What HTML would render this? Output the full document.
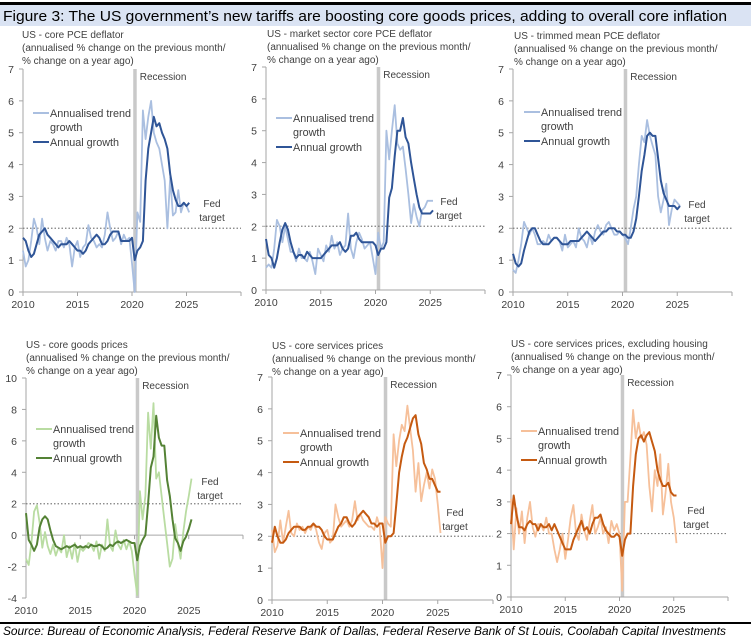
<!DOCTYPE html>
<html><head><meta charset="utf-8"><style>
body{margin:0;background:#fff;width:751px;height:636px;overflow:hidden;font-family:"Liberation Sans",sans-serif}
svg{display:block}
text{font-family:"Liberation Sans",sans-serif;fill:#404040}
</style></head><body>
<svg id="c" width="751" height="636">
<rect x="0" y="2" width="751" height="3" fill="#000"/>
<rect x="0" y="5" width="751" height="21" fill="#dae3f3"/>
<text x="3" y="21" font-size="15" textLength="724" lengthAdjust="spacingAndGlyphs" style="fill:#000">Figure 3:  The US government’s new tariffs are boosting core goods prices, adding to overall core inflation</text>
<rect x="0" y="622" width="751" height="2" fill="#000"/>
<text x="3" y="635" font-size="12" font-style="italic" textLength="723" lengthAdjust="spacingAndGlyphs" style="fill:#000">Source: Bureau of Economic Analysis, Federal Reserve Bank of Dallas, Federal Reserve Bank of St Louis, Coolabah Capital Investments</text>
</svg>
<script>
const startYear = 2010, stepYears = 0.25;
const p1Annual=[1.7,1.6,1.3,1.1,1.2,1.5,1.8,1.9,2.0,1.8,1.7,1.6,1.5,1.4,1.5,1.5,1.5,1.6,1.5,1.4,1.3,1.3,1.2,1.3,1.5,1.6,1.7,1.8,1.7,1.5,1.5,1.6,1.8,1.9,1.9,1.9,1.6,1.6,1.6,1.6,1.7,1.0,1.3,1.4,1.6,3.5,4.5,5.0,5.5,5.2,5.3,5.0,4.8,4.5,3.7,3.2,2.9,2.7,2.7,2.8,2.7,2.8];
const p1Trend=[1.3,0.8,1.0,1.6,2.3,2.0,1.5,2.3,1.7,1.3,1.6,1.5,1.3,1.6,1.6,1.4,1.7,1.5,0.8,1.4,1.6,1.1,1.4,1.5,2.1,1.7,1.6,1.4,1.5,1.4,1.8,2.5,2.0,1.6,1.7,1.9,1.5,1.8,1.6,1.7,0.9,0.0,2.5,2.2,5.7,4.8,5.5,6.0,5.0,4.7,4.5,4.0,3.5,2.0,3.6,2.4,2.5,3.2,2.5,2.8,2.7,2.5];
const p2Annual=[1.6,1.1,1.0,0.7,1.0,1.5,1.9,2.1,1.9,1.5,1.2,1.0,1.1,1.1,1.0,1.2,1.1,1.0,1.0,1.0,1.0,1.1,1.2,1.3,1.4,1.4,1.4,1.5,1.3,1.2,1.3,1.7,1.7,1.8,1.6,1.5,1.5,1.5,1.5,1.5,1.4,1.1,1.3,1.3,1.5,2.9,3.2,4.2,5.0,5.0,5.4,4.8,4.6,4.0,3.5,3.0,2.6,2.4,2.4,2.4,2.4,2.5];
const p2Trend=[0.7,0.8,0.7,1.3,2.2,2.0,1.5,2.0,1.6,1.2,1.2,0.9,1.3,1.0,1.0,0.9,1.2,0.9,0.5,1.3,1.1,0.9,1.4,1.2,1.7,1.3,1.5,1.1,1.3,1.4,2.4,1.3,1.0,1.5,1.8,1.6,1.3,1.4,1.5,1.0,0.5,1.8,1.3,1.5,5.0,4.1,5.0,5.8,4.6,4.4,4.5,3.8,3.0,2.1,2.7,2.3,2.0,2.5,2.6,2.8,2.8,2.8];
const p3Annual=[1.2,0.9,0.8,0.9,1.3,1.6,1.9,2.0,2.0,1.8,1.6,1.5,1.5,1.5,1.6,1.7,1.7,1.6,1.5,1.5,1.5,1.6,1.6,1.6,1.6,1.7,1.8,1.9,1.8,1.7,1.6,1.7,1.8,1.9,1.9,2.0,2.0,2.0,1.9,1.9,1.8,1.8,1.7,1.7,1.9,2.3,3.0,3.8,4.3,4.9,5.0,4.9,4.9,4.2,3.5,3.1,2.9,2.7,2.7,2.7,2.6,2.7];
const p3Trend=[0.7,0.6,1.0,1.5,2.2,2.0,1.8,2.0,1.8,1.5,1.5,1.6,1.5,1.8,1.6,1.7,1.7,1.6,1.3,1.8,1.4,1.5,1.6,1.4,2.0,1.7,1.6,1.4,1.8,1.5,1.9,2.1,1.9,1.8,2.1,2.2,2.0,1.8,1.8,1.9,1.8,1.7,1.5,2.0,2.6,3.0,4.0,4.9,4.7,5.4,4.9,4.6,4.3,3.0,2.5,2.9,3.4,2.1,2.6,2.9,2.8,2.7];
const p4Annual=[1.4,-0.3,-0.6,-1.0,-0.6,0.5,1.0,1.2,1.0,0.3,-0.3,-0.7,-0.8,-0.9,-0.8,-0.7,-0.8,-0.7,-0.6,-0.8,-0.7,-0.8,-0.7,-0.8,-0.6,-0.7,-0.7,-0.6,-0.7,-0.9,-0.8,-0.6,-0.7,-0.5,-0.4,-0.5,-0.4,-0.3,-0.4,-0.5,-0.5,-1.6,-0.7,-0.3,0.0,2.0,4.3,5.0,7.6,6.2,5.7,5.7,3.5,2.5,1.0,-0.2,-0.5,-1.0,-0.4,-0.1,0.4,1.0];
const p4Trend=[-1.5,-1.9,-0.5,1.5,1.9,0.8,-0.8,0.2,-0.7,-1.2,-0.6,-1.3,-0.8,-1.1,0.0,-1.4,-0.7,-1.5,-0.5,-1.7,-0.8,-1.0,-0.8,-0.5,-0.6,-1.0,-0.4,-1.5,-0.6,-1.0,1.0,-0.7,-1.0,0.3,-0.6,-0.9,-0.3,-0.9,-0.4,-1.0,-2.5,-3.8,2.8,1.0,2.5,7.8,5.5,8.4,3.6,4.0,2.5,1.0,-0.5,-2.0,-1.5,0.7,-0.5,-1.5,0.2,1.5,2.5,3.6];
const p5Annual=[1.8,2.3,2.0,1.8,1.8,1.9,2.1,2.2,2.3,2.3,2.3,2.2,2.2,2.3,2.3,2.4,2.3,2.3,2.2,2.0,1.9,1.9,1.9,2.1,2.3,2.4,2.6,2.6,2.4,2.3,2.4,2.6,2.7,2.8,2.7,2.6,2.4,2.4,2.3,2.4,2.4,1.8,2.0,2.0,2.1,3.0,4.0,4.5,4.9,5.1,5.4,5.7,5.8,5.2,4.9,4.3,4.1,3.8,3.8,3.6,3.4,3.4];
const p5Trend=[2.2,1.5,1.7,2.5,1.8,2.3,2.8,2.1,2.0,2.4,2.2,2.3,2.1,2.3,2.2,2.4,2.2,1.8,1.6,2.1,2.2,1.8,1.9,3.0,2.6,2.3,2.4,2.5,2.3,2.5,3.1,2.5,2.7,2.5,2.4,2.3,2.3,2.2,2.6,2.3,1.0,2.6,2.4,2.3,5.2,4.2,5.0,5.5,5.3,6.1,5.4,4.7,3.4,4.3,3.1,3.6,4.0,3.5,4.1,3.8,3.0,2.1];
const p6Annual=[2.3,3.2,2.6,2.2,2.2,2.1,2.3,2.4,2.3,2.3,2.1,2.3,2.2,2.2,2.3,2.1,2.3,2.1,1.9,1.7,1.5,1.5,1.5,1.8,2.0,2.2,2.4,2.1,2.2,2.0,2.3,2.5,2.5,2.6,2.3,2.1,2.0,1.9,1.9,2.0,1.9,1.3,1.8,2.0,2.0,3.5,4.5,5.0,5.1,4.9,5.1,5.2,4.9,4.6,4.0,3.7,3.5,3.5,3.6,3.3,3.2,3.2];
const p6Trend=[3.1,1.5,2.8,2.0,2.7,1.7,2.5,3.0,2.2,1.9,2.3,2.3,2.1,2.5,2.0,2.0,1.5,1.1,1.5,2.0,1.2,1.8,2.5,2.9,2.0,1.8,2.6,2.1,1.8,2.4,2.9,2.0,2.2,2.5,2.0,2.2,1.7,2.4,2.1,2.3,2.0,0.2,3.0,3.0,4.4,5.9,5.0,5.5,5.0,5.2,4.8,3.5,2.7,4.0,3.5,4.5,2.6,3.3,4.2,3.0,2.5,1.7];
const xTickLabels=["2010","2015","2020","2025"];
const fedTarget=2, recessionYear=2020.25;

const svg=document.getElementById('c');
const NS='http://www.w3.org/2000/svg';
function mk(tag,attrs){const e=document.createElementNS(NS,tag);for(const k in attrs)e.setAttribute(k,attrs[k]);svg.appendChild(e);return e;}
const blueD='#2f5597',blueL='#aabfe0',grnD='#548235',grnL='#b9dca2',orD='#c55a11',orL='#f6c09a';
const panels=[
 {id:'core-pce',x0:23,x1:241,yT:69,yB:292,min:0,max:7,step:1,title:['US - core PCE deflator','(annualised % change on the previous month/','% change on a year ago)'],tx:22,ty:38,a:p1Annual,t:p1Trend,cd:blueD,cl:blueL,leg:[33,113],fed:[212,207]},
 {id:'market-pce',x0:266,x1:485,yT:67,yB:290,min:0,max:7,step:1,title:['US - market sector core PCE deflator','(annualised % change on the previous month/','% change on a year ago)'],tx:267,ty:37,a:p2Annual,t:p2Trend,cd:blueD,cl:blueL,leg:[276,118],fed:[449,205]},
 {id:'trimmed-pce',x0:513,x1:732,yT:69,yB:292,min:0,max:7,step:1,title:['US - trimmed mean PCE deflator','(annualised % change on the previous month/','% change on a year ago)'],tx:514,ty:39,a:p3Annual,t:p3Trend,cd:blueD,cl:blueL,leg:[524,112],fed:[697,208]},
 {id:'core-goods',x0:26,x1:243,yT:378,yB:598,min:-4,max:10,step:2,title:['US - core goods prices','(annualised % change on the previous month/','% change on a year ago)'],tx:26,ty:348,a:p4Annual,t:p4Trend,cd:grnD,cl:grnL,leg:[36,429],fed:[210,485]},
 {id:'core-services',x0:272,x1:493,yT:377,yB:600,min:0,max:7,step:1,title:['US - core services prices','(annualised % change on the previous month/','% change on a year ago)'],tx:272,ty:349,a:p5Annual,t:p5Trend,cd:orD,cl:orL,leg:[283,433],fed:[455,516]},
 {id:'services-ex-housing',x0:511,x1:728,yT:375,yB:597,min:0,max:7,step:1,title:['US - core services prices, excluding housing','(annualised % change on the previous month/','% change on a year ago)'],tx:511,ty:347,a:p6Annual,t:p6Trend,cd:orD,cl:orL,leg:[521,431],fed:[696,514]}
];
panels.forEach(p=>{
 const X=yr=>p.x0+(yr-2010)/20*(p.x1-p.x0);
 const Y=v=>p.yB-(v-p.min)/(p.max-p.min)*(p.yB-p.yT);
 p.title.forEach((s,i)=>{const e=mk('text',{x:p.tx,y:p.ty+i*13,'font-size':'10'});e.textContent=s;
  
  });
 const rb=mk('rect',{x:X(recessionYear)-1.5,y:p.yT,width:3.5,height:p.yB-p.yT,fill:'#c9c9c9'});
 
 
 const rl=mk('text',{x:X(recessionYear)+5,y:p.yT+11,'font-size':'10'});rl.textContent='Recession';
 
 
 const ya=mk('line',{x1:p.x0,y1:p.yT,x2:p.x0,y2:p.yB,stroke:'#a6a6a6','stroke-width':1});
 
 
 for(let v=p.min;v<=p.max;v+=p.step){
  mk('line',{x1:p.x0-4,y1:Y(v),x2:p.x0,y2:Y(v),stroke:'#a6a6a6'});
  const t=mk('text',{x:p.x0-9,y:Y(v)+4,'font-size':'10.5','text-anchor':'end'});t.textContent=v;
  
  
 }
 const xa=mk('line',{x1:p.x0,y1:Y(0),x2:p.x1,y2:Y(0),stroke:'#a6a6a6'});
 
 
 for(let yr=2010;yr<=2030;yr+=5){mk('line',{x1:X(yr),y1:Y(0),x2:X(yr),y2:Y(0)+4,stroke:'#a6a6a6'});}
 xTickLabels.forEach((s,i)=>{const t=mk('text',{x:X(2010+5*i),y:p.yB+16,'font-size':'10.5','text-anchor':'middle'});t.textContent=s;
  
  });
 const fl=mk('line',{x1:p.x0,y1:Y(fedTarget),x2:p.x1,y2:Y(fedTarget),stroke:'#7f7f7f','stroke-dasharray':'1.5,2','stroke-width':1.2});
 
 
 ['Fed','target'].forEach((s,i)=>{const t=mk('text',{x:p.fed[0],y:p.fed[1]+i*14,'font-size':'10','text-anchor':'middle'});t.textContent=s;
  
  });
 const path=arr=>arr.map((v,i)=>(i?'L':'M')+X(startYear+i*stepYears).toFixed(1)+','+Y(v).toFixed(1)).join('');
 const tl=mk('path',{d:path(p.t),fill:'none',stroke:p.cl,'stroke-width':1.8,'stroke-linejoin':'round'});
 
 
 const al=mk('path',{d:path(p.a),fill:'none',stroke:p.cd,'stroke-width':2,'stroke-linejoin':'round'});
 
 
 const [lx,ly]=p.leg;
 mk('line',{x1:lx,y1:ly,x2:lx+16,y2:ly,stroke:p.cl,'stroke-width':2});
 const l1=mk('text',{x:lx+17,y:ly+4,'font-size':'10.8'});l1.textContent='Annualised trend';
 
 
 const l2=mk('text',{x:lx+17,y:ly+18,'font-size':'10.8'});l2.textContent='growth';
 
 
 mk('line',{x1:lx,y1:ly+29,x2:lx+16,y2:ly+29,stroke:p.cd,'stroke-width':2});
 const l3=mk('text',{x:lx+17,y:ly+33,'font-size':'10.8'});l3.textContent='Annual growth';
 
 
});
</script>
</body></html>
